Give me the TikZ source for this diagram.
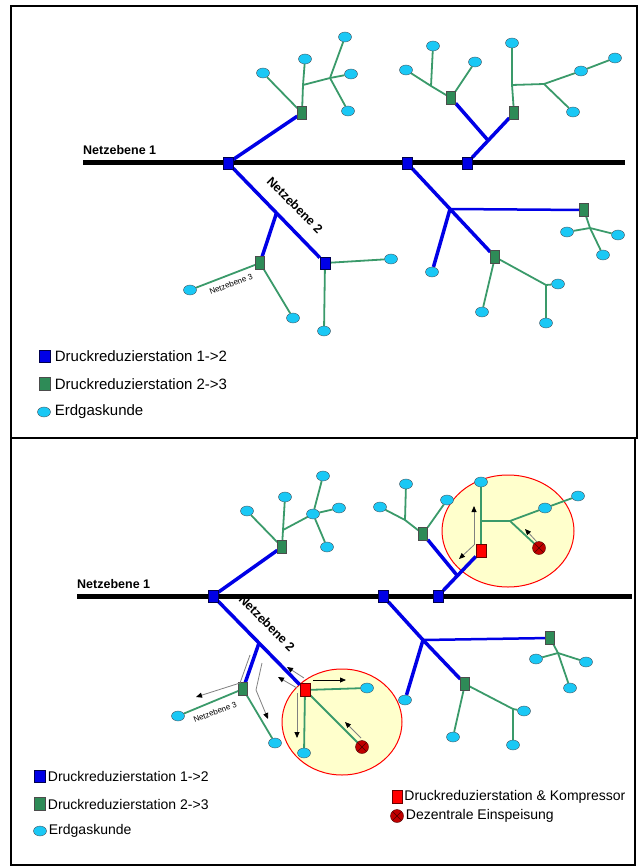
\documentclass[tikz,border=0pt]{standalone}
\usepackage{fontspec}
\setmainfont{Liberation Sans}
\usetikzlibrary{positioning, calc, shapes.geometric, arrows.meta}
\definecolor{netzblau}{HTML}{0000E6}
\definecolor{netzgruen}{HTML}{3A9A6A}
\definecolor{stationgruen}{HTML}{2E8B57}
\definecolor{gaskunde}{HTML}{1AC8F5}
\definecolor{zonegelb}{HTML}{FFFFCC}
\definecolor{einspeisrot}{HTML}{C00000}
\pgfdeclarelayer{bg}
\pgfdeclarelayer{wires}
\pgfsetlayers{bg,wires,main}

\begin{document}
\begin{tikzpicture}[
        x=1pt, y=-1pt,
        node distance=3pt,
        dr12/.style={rectangle, draw=blue!30!black, fill=netzblau, minimum width=10pt, minimum height=12pt, inner sep=0pt},
        dr23/.style={rectangle, draw=black!70, fill=stationgruen, minimum width=9pt, minimum height=13pt, inner sep=0pt},
        drkomp/.style={rectangle, draw=red!40!black, fill=red, minimum width=10pt, minimum height=13pt, inner sep=0pt},
        einsp/.style={circle, draw=red!30!black, fill=einspeisrot, minimum size=13pt, inner sep=0pt,
            path picture={\draw[red!30!black] (path picture bounding box.north west) -- (path picture bounding box.south east)
                (path picture bounding box.south west) -- (path picture bounding box.north east);}},
        kunde/.style={ellipse, draw=cyan!30!black, fill=gaskunde, minimum width=13pt, minimum height=10pt, inner sep=0pt},
        zone/.style={ellipse, draw=red, line width=1pt, fill=zonegelb, inner sep=0pt},
        ebene1/.style={line width=5pt, black},
        ebene2/.style={line width=3.5pt, netzblau},
        ebene3/.style={line width=1.8pt, netzgruen},
        ebenelabel/.style={font=\fontsize{12.5}{14}\selectfont\bfseries, inner sep=0pt},
        kleinlabel/.style={font=\fontsize{8}{9}\selectfont, inner sep=0pt},
        legtext/.style={font=\fontsize{15}{18}\selectfont, inner sep=1pt, anchor=west},
        fluss/.style={draw=gray, line width=0.8pt, -{Triangle[length=6pt, width=5pt, color=black]}}
    ]
    \useasboundingbox (0,0) rectangle (639,866);

    % Frames
    \draw[line width=1.5pt] (11,6) rectangle (637,438);
    \draw[line width=1.5pt] (11,438) rectangle (635,865);

    % ---------- upper panel ----------
    % Nodes
    \coordinate (a_w) at (83,163);
    \coordinate (a_e) at (625,163);
    \node (a_ne1) [ebenelabel, anchor=base west] at (83,155) {Netzebene 1};

    \node (a_s1) [dr12] at (228,163) {};
    \node (a_s2) [dr12] at (407,163) {};
    \node (a_s3) [dr12] at (467,163) {};
    \node (a_s4) [dr12] at (325,263) {};

    \node (a_g1) [dr23] at (302,113) {};
    \node (a_g2) [dr23] at (451,98) {};
    \node (a_g3) [dr23] at (514,113) {};
    \node (a_g4) [dr23] at (584,210) {};
    \node (a_g5) [dr23] at (495,257) {};
    \node (a_g6) [dr23] at (260,263) {};

    \node (a_k1) [kunde] at (263,73) {};
    \node (a_k2) [kunde] at (305,59) {};
    \node (a_k3) [kunde] at (345,37) {};
    \node (a_k4) [kunde] at (351,74) {};
    \node (a_k5) [kunde] at (348,111) {};
    \node (a_k6) [kunde] at (406,70) {};
    \node (a_k7) [kunde] at (433,46) {};
    \node (a_k8) [kunde] at (475,62) {};
    \node (a_k9) [kunde] at (512,43) {};
    \node (a_k10) [kunde] at (581,71) {};
    \node (a_k11) [kunde] at (615,58) {};
    \node (a_k12) [kunde] at (573,112) {};
    \node (a_k13) [kunde] at (567,232) {};
    \node (a_k14) [kunde] at (618,235) {};
    \node (a_k15) [kunde] at (603,255) {};
    \node (a_k16) [kunde] at (432,272) {};
    \node (a_k17) [kunde] at (482,312) {};
    \node (a_k18) [kunde] at (558,284) {};
    \node (a_k19) [kunde] at (546,323) {};
    \node (a_k20) [kunde] at (190,290) {};
    \node (a_k21) [kunde] at (293,318) {};
    \node (a_k22) [kunde] at (391,259) {};
    \node (a_k23) [kunde] at (324,331) {};

    \coordinate (a_b1) at (303,85);
    \coordinate (a_b2) at (330,78);
    \coordinate (a_b3) at (431,86);
    \coordinate (a_b4) at (512,85);
    \coordinate (a_b5) at (544,84);
    \coordinate (a_b6) at (590,228);
    \coordinate (a_b7) at (546,285);
    \coordinate (a_j1) at ($(a_s3)!0.45!(a_g3)$);
    \coordinate (a_j2) at (450,209);
    \coordinate (a_j3) at ($(a_s1)!0.5!(a_s4)$);

    \node (a_ne2) [ebenelabel, rotate=-45] at (295,205) {Netzebene 2};
    \node (a_ne3) [kleinlabel, rotate=21] at (231,284) {Netzebene 3};

    % Legend
    \node (a_ls1) [dr12, minimum width=11pt] at (45,356) {};
    \node (a_lt1) [legtext, right=of a_ls1] {Druckreduzierstation 1->2};
    \node (a_ls2) [dr23, minimum width=11pt] at (45,384) {};
    \node (a_lt2) [legtext, right=of a_ls2] {Druckreduzierstation 2->3};
    \node (a_ls3) [kunde] at (44,412) {};
    \node (a_lt3) [legtext, right=of a_ls3] {Erdgaskunde};

    % Lines
    \begin{pgfonlayer}{wires}
    \draw [ebene1] (a_w) -- (a_e);
    \draw [ebene2] (a_s1) -- (a_g1);
    \draw [ebene2] (a_s1) -- (a_s4);
    \draw [ebene2] (a_j3) -- (a_g6);
    \draw [ebene2] (a_s3) -- (a_g3);
    \draw [ebene2] (a_j1) -- (a_g2);
    \draw [ebene2] (a_s2) -- (a_j2) -- (a_g5);
    \draw [ebene2, line width=2.5pt] (a_j2) -- (a_g4);
    \draw [ebene2] (a_j2) -- (a_k16);

    \draw [ebene3] (a_g1) -- (a_k1);
    \draw [ebene3] (a_g1) -- (a_b1) -- (a_k2);
    \draw [ebene3] (a_b1) -- (a_b2) -- (a_k3);
    \draw [ebene3] (a_b2) -- (a_k4);
    \draw [ebene3] (a_b2) -- (a_k5);
    \draw [ebene3] (a_g2) -- (a_b3) -- (a_k6);
    \draw [ebene3] (a_b3) -- (a_k7);
    \draw [ebene3] (a_g2) -- (a_k8);
    \draw [ebene3] (a_g3) -- (a_b4) -- (a_k9);
    \draw [ebene3] (a_b4) -- (a_b5) -- (a_k10) -- (a_k11);
    \draw [ebene3] (a_b5) -- (a_k12);
    \draw [ebene3] (a_g4) -- (a_b6) -- (a_k15);
    \draw [ebene3] (a_k13) -- (a_b6) -- (a_k14);
    \draw [ebene3] (a_g5) -- (a_k17);
    \draw [ebene3] (a_g5) -- (a_b7) -- (a_k18);
    \draw [ebene3] (a_b7) -- (a_k19);
    \draw [ebene3] (a_g6) -- (a_k20);
    \draw [ebene3] (a_g6) -- (a_k21);
    \draw [ebene3] (a_s4) -- (a_k22);
    \draw [ebene3] (a_s4) -- (a_k23);
    \end{pgfonlayer}

    % ---------- lower panel ----------
    % Nodes
    \coordinate (b_w) at (77,596);
    \coordinate (b_e) at (632,596);
    \node (b_ne1) [ebenelabel, anchor=base west] at (77,588) {Netzebene 1};

    \begin{pgfonlayer}{bg}
    \node (b_z1) [zone, minimum width=132pt, minimum height=112pt] at (508,531) {};
    \node (b_z2) [zone, minimum width=120pt, minimum height=106pt] at (342,722) {};
    \end{pgfonlayer}

    \node (b_s1) [dr12] at (213,596) {};
    \node (b_s2) [dr12] at (383,596) {};
    \node (b_s3) [dr12] at (438,596) {};

    \node (b_g1) [dr23] at (282,547) {};
    \node (b_g2) [dr23] at (423,534) {};
    \node (b_g3) [dr23] at (550,638) {};
    \node (b_g4) [dr23] at (465,684) {};
    \node (b_g5) [dr23] at (243,689) {};

    \node (b_r1) [drkomp] at (481,551) {};
    \node (b_r2) [drkomp] at (305,690) {};
    \node (b_e1) [einsp] at (539,548) {};
    \node (b_e2) [einsp] at (362,747) {};

    \node (b_k1) [kunde] at (247,511) {};
    \node (b_k2) [kunde] at (285,497) {};
    \node (b_k3) [kunde] at (313,514) {};
    \node (b_k4) [kunde] at (323,476) {};
    \node (b_k5) [kunde] at (339,508) {};
    \node (b_k6) [kunde] at (327,547) {};
    \node (b_k7) [kunde] at (447,500) {};
    \node (b_k8) [kunde] at (380,507) {};
    \node (b_k9) [kunde] at (406,484) {};
    \node (b_k10) [kunde] at (481,482) {};
    \node (b_k11) [kunde] at (545,508) {};
    \node (b_k12) [kunde] at (578,496) {};
    \node (b_k13) [kunde] at (405,700) {};
    \node (b_k14) [kunde] at (536,659) {};
    \node (b_k15) [kunde] at (586,662) {};
    \node (b_k16) [kunde] at (570,688) {};
    \node (b_k17) [kunde] at (453,737) {};
    \node (b_k18) [kunde] at (524,711) {};
    \node (b_k19) [kunde] at (513,745) {};
    \node (b_k20) [kunde] at (178,716) {};
    \node (b_k21) [kunde] at (275,743) {};
    \node (b_k22) [kunde] at (367,688) {};
    \node (b_k23) [kunde] at (304,753) {};

    \coordinate (b_b1) at (283,530);
    \coordinate (b_b2) at (405,520);
    \coordinate (b_b3) at (481,521);
    \coordinate (b_b4) at (510,521);
    \coordinate (b_b5) at (558,653);
    \coordinate (b_b6) at (513,709);
    \coordinate (b_j1) at ($(b_s3)!0.45!(b_r1)$);
    \coordinate (b_j2) at (423,640);
    \coordinate (b_j3) at ($(b_s1)!0.5!(b_r2)$);

    \node (b_ne2) [ebenelabel, rotate=-45] at (267,623) {Netzebene 2};
    \node (b_ne3) [kleinlabel, rotate=21] at (215,712) {Netzebene 3};

    % flow arrows
    \coordinate (b_f1a) at (474,545); \coordinate (b_f1b) at (474,506);
    \coordinate (b_f2b) at (459,559);
    \coordinate (b_f3a) at (537,542); \coordinate (b_f3b) at (525,529);
    \coordinate (b_f4a) at (313,680); \coordinate (b_f4b) at (346,680);
    \coordinate (b_f5a) at (304,678); \coordinate (b_f5b) at (287,667);
    \coordinate (b_f6a) at (297,688); \coordinate (b_f6b) at (278,677);
    \coordinate (b_f7a) at (297,693); \coordinate (b_f7b) at (297,738);
    \coordinate (b_f8a) at (361,738); \coordinate (b_f8b) at (345,722);
    \coordinate (b_f9a) at (250,655); \coordinate (b_f9m) at (240,683); \coordinate (b_f9b) at (196,697);
    \coordinate (b_f10a) at (262,663); \coordinate (b_f10m) at (256,690); \coordinate (b_f10b) at (268,719);

    % Legend
    \node (b_ls1) [dr12, minimum width=11pt] at (40,776) {};
    \node (b_lt1) [legtext, font=\fontsize{14}{16}\selectfont, right=1pt of b_ls1] {Druckreduzierstation 1->2};
    \node (b_ls2) [dr23, minimum width=11pt] at (40,804) {};
    \node (b_lt2) [legtext, font=\fontsize{14}{16}\selectfont, right=1pt of b_ls2] {Druckreduzierstation 2->3};
    \node (b_ls3) [kunde] at (40,831) {};
    \node (b_lt3) [legtext, font=\fontsize{14}{16}\selectfont, right=1pt of b_ls3] {Erdgaskunde};
    \node (b_ls4) [drkomp] at (397,797) {};
    \node (b_lt4) [legtext, font=\fontsize{14}{16}\selectfont, right=1pt of b_ls4] {Druckreduzierstation \& Kompressor};
    \node (b_ls5) [einsp] at (397,816) {};
    \node (b_lt5) [legtext, font=\fontsize{14}{16}\selectfont, right=1pt of b_ls5] {Dezentrale Einspeisung};

    % Lines
    \begin{pgfonlayer}{wires}
    \draw [ebene1] (b_w) -- (b_e);
    \draw [ebene2] (b_s1) -- (b_g1);
    \draw [ebene2] (b_s1) -- (b_r2);
    \draw [ebene2] (b_j3) -- (b_g5);
    \draw [ebene2] (b_s3) -- (b_r1);
    \draw [ebene2] (b_j1) -- (b_g2);
    \draw [ebene2] (b_s2) -- (b_j2) -- (b_g4);
    \draw [ebene2, line width=2.5pt] (b_j2) -- (b_g3);
    \draw [ebene2] (b_j2) -- (b_k13);

    \draw [ebene3] (b_g1) -- (b_k1);
    \draw [ebene3] (b_g1) -- (b_b1) -- (b_k2);
    \draw [ebene3] (b_b1) -- (b_k3);
    \draw [ebene3] (b_k3) -- (b_k4);
    \draw [ebene3] (b_k3) -- (b_k5);
    \draw [ebene3] (b_k3) -- (b_k6);
    \draw [ebene3] (b_g2) -- (b_k7);
    \draw [ebene3] (b_g2) -- (b_b2) -- (b_k8);
    \draw [ebene3] (b_b2) -- (b_k9);
    \draw [ebene3] (b_r1) -- (b_b3) -- (b_k10);
    \draw [ebene3] (b_b3) -- (b_b4) -- (b_k11) -- (b_k12);
    \draw [ebene3] (b_b4) -- (b_e1);
    \draw [ebene3] (b_g3) -- (b_b5) -- (b_k16);
    \draw [ebene3] (b_k14) -- (b_b5) -- (b_k15);
    \draw [ebene3] (b_g4) -- (b_k17);
    \draw [ebene3] (b_g4) -- (b_b6) -- (b_k18);
    \draw [ebene3] (b_b6) -- (b_k19);
    \draw [ebene3] (b_g5) -- (b_k20);
    \draw [ebene3] (b_g5) -- (b_k21);
    \draw [ebene3] (b_r2) -- (b_k22);
    \draw [ebene3] (b_r2) -- (b_k23);
    \draw [ebene3] (b_r2) -- (b_e2);
    \end{pgfonlayer}

    % Arrows
    \draw [fluss] (b_f1a) -- (b_f1b);
    \draw [fluss] (b_f1a) -- (b_f2b);
    \draw [fluss] (b_f3a) -- (b_f3b);
    \draw [fluss, draw=black] (b_f4a) -- (b_f4b);
    \draw [fluss] (b_f5a) -- (b_f5b);
    \draw [fluss] (b_f6a) -- (b_f6b);
    \draw [fluss] (b_f7a) -- (b_f7b);
    \draw [fluss] (b_f8a) -- (b_f8b);
    \draw [fluss] (b_f9a) -- (b_f9m) -- (b_f9b);
    \draw [fluss] (b_f10a) -- (b_f10m) -- (b_f10b);

\end{tikzpicture}
\end{document}
